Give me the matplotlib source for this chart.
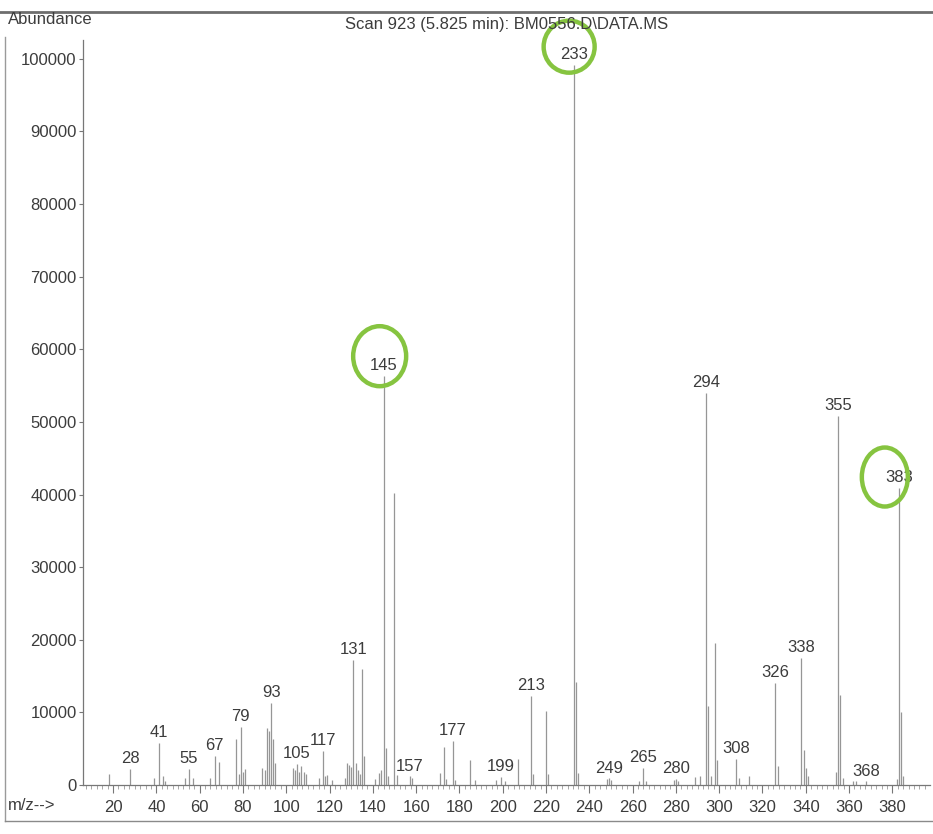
import matplotlib
matplotlib.use("Agg")
import matplotlib.pyplot as plt
import matplotlib.transforms as mtrans
from matplotlib.lines import Line2D
from matplotlib.patches import Ellipse

plt.rcParams['font.family'] = ['Liberation Sans Narrow', 'Liberation Sans', 'DejaVu Sans']

# mass spectrum, scan 923
mz = [18, 28, 39, 41, 43, 44, 53, 55, 57, 65, 67, 69, 77, 78, 79, 80, 81,
      89, 90, 91, 92, 93, 94, 95, 103, 104, 105, 106, 107, 108, 109,
      115, 117, 118, 119, 121, 127, 128, 129, 130, 131, 132, 133, 134, 135, 136,
      141, 143, 144, 145, 146, 147, 150, 151, 157, 158, 171, 173, 174, 177, 178,
      185, 187, 197, 199, 201, 207, 213, 214, 220, 221, 233, 234, 235,
      248, 249, 250, 263, 265, 266, 279, 280, 281, 289, 291, 294, 295, 296, 298, 299,
      308, 309, 314, 326, 327, 338, 339, 340, 341, 354, 355, 356, 357,
      362, 363, 368, 382, 383, 384, 385]
abundance = [1500, 2200, 1000, 5800, 1200, 600, 900, 2200, 900, 900, 4000, 3200, 6300, 1500, 8000, 1800, 2200,
             2400, 2000, 7900, 7400, 11300, 6300, 3000, 2400, 2000, 2900, 1800, 2600, 1800, 1500,
             1000, 4700, 1200, 1400, 700, 1000, 3000, 2700, 2500, 17200, 3000, 2000, 1500, 16000, 4000,
             800, 1700, 2000, 56300, 5100, 1300, 40200, 1400, 1200, 1000, 1600, 5200, 800, 6100, 700,
             3400, 700, 700, 1100, 600, 3600, 12300, 1500, 10200, 1500, 99200, 14200, 1600,
             800, 900, 700, 600, 2400, 500, 700, 800, 600, 1100, 1300, 54000, 10900, 1300, 19600, 3500,
             3600, 1000, 1200, 14100, 2600, 17500, 4800, 2400, 1200, 1800, 50800, 12400, 1000,
             500, 600, 500, 800, 40900, 10000, 1200]

labelled = [28, 41, 55, 67, 79, 93, 105, 117, 131, 145, 157, 177, 199, 213, 233,
            249, 265, 280, 294, 308, 326, 338, 355, 368, 383]
circled = [233, 145, 383]

y_ticks = list(range(0, 100001, 10000))
x_ticks = list(range(20, 381, 20))

W, H = 933, 834
fig = plt.figure(figsize=(W / 100, H / 100), dpi=100)
ax = fig.add_axes([83 / W, 1 - 785 / H, (930 - 83) / W, (785 - 40) / H])

txt = "#3c3c3c"
ax.vlines(mz, 0, abundance, color="#969696", lw=0.9)

peak = dict(zip(mz, abundance))
for m in labelled:
    ax.annotate(str(m), (m, peak[m]), xytext=(0, 2), textcoords="offset points",
                ha="center", va="bottom", fontsize=12, color=txt)

ax.set_xlim(6.1, 397.4)
ax.set_ylim(0, 102600)
for s in ["top", "right"]:
    ax.spines[s].set_visible(False)
ax.spines["left"].set_color("#777777")
ax.spines["bottom"].set_color("#777777")
ax.spines["left"].set_linewidth(0.9)
ax.spines["bottom"].set_linewidth(0.9)

ax.set_yticks(y_ticks)
ax.set_yticklabels([str(v) for v in y_ticks])
ax.set_xticks(x_ticks)
ax.set_xticks([v / 2 for v in range(15, 795, 5)], minor=True)
ax.tick_params(axis="y", direction="out", length=3, pad=1.5, labelsize=12,
               colors="#777777", labelcolor=txt)
ax.tick_params(axis="x", which="major", direction="out", length=6, pad=5, labelsize=12,
               colors="#777777", labelcolor=txt)
ax.tick_params(axis="x", which="minor", direction="out", length=3, colors="#999999")

# green rings around some of the peak labels: (dx, dy, width, height) in pixels,
# measured from the top of the peak line
rings = {233: (-5, 18, 51, 52), 145: (-4, 20, 53, 60), 383: (-14, 11, 46, 59)}
for m in circled:
    dx, dy, w, h = rings[m]
    tr = fig.dpi_scale_trans + mtrans.ScaledTranslation(m, peak[m], ax.transData)
    ax.add_patch(Ellipse((dx / 100, dy / 100), w / 100, h / 100, transform=tr,
                         fill=False, ec="#86c440", lw=3.2, zorder=5, clip_on=False))

# page frame and header text
fig.add_artist(Line2D([0, 1], [1 - 12 / H, 1 - 12 / H], color="#6e6e6e", lw=2))
fig.add_artist(Line2D([5 / W, 5 / W], [1 - 37 / H, 1 - 821 / H], color="#9a9a9a", lw=1))
fig.add_artist(Line2D([5 / W, 1], [1 - 821 / H, 1 - 821 / H], color="#8a8a8a", lw=1))
fig.text(8 / W, 1 - 20 / H, "Abundance", fontsize=12, color=txt, va="center", ha="left")
fig.text(507 / W, 1 - 25 / H, "Scan 923 (5.825 min): BM0556.D\\DATA.MS",
         fontsize=12, color=txt, va="center", ha="center")
fig.text(8 / W, 1 - 806 / H, "m/z-->", fontsize=12, color=txt, va="center", ha="left")

fig.savefig("out.png", dpi=100)
